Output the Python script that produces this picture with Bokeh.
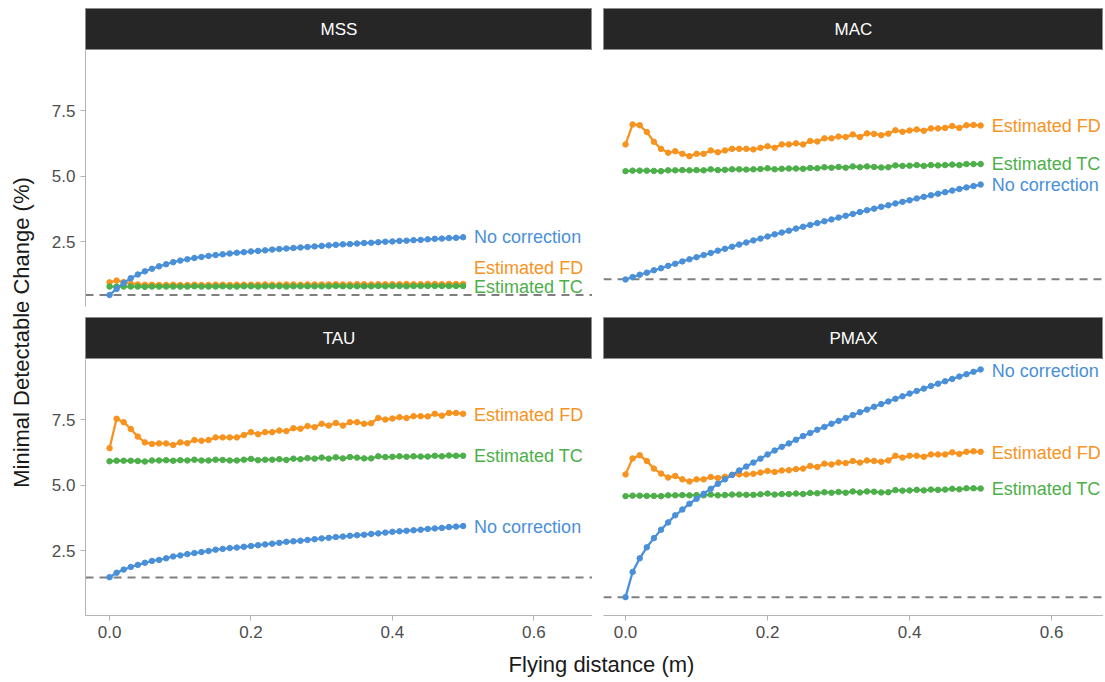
import math
from bokeh.plotting import figure
from bokeh.models import Range1d, LinearAxis, FixedTicker, PrintfTickFormatter, Span
from bokeh.layouts import row, column
from bokeh.embed import file_html
from bokeh.resources import INLINE
from bokeh.core.properties import value

# ---------------- data ----------------
distance = [0.00, 0.01, 0.02, 0.03, 0.04, 0.05, 0.06, 0.07, 0.08, 0.09,
            0.10, 0.11, 0.12, 0.13, 0.14, 0.15, 0.16, 0.17, 0.18, 0.19,
            0.20, 0.21, 0.22, 0.23, 0.24, 0.25, 0.26, 0.27, 0.28, 0.29,
            0.30, 0.31, 0.32, 0.33, 0.34, 0.35, 0.36, 0.37, 0.38, 0.39,
            0.40, 0.41, 0.42, 0.43, 0.44, 0.45, 0.46, 0.47, 0.48, 0.49,
            0.50]

panels = ["MSS", "MAC", "TAU", "PMAX"]
series_names = ["Estimated FD", "Estimated TC", "No correction"]

mss_fd = [0.96, 1.03, 0.97, 0.91, 0.88, 0.87, 0.87, 0.86, 0.86, 0.87,
          0.86, 0.86, 0.87, 0.86, 0.86, 0.87, 0.87, 0.86, 0.87, 0.87,
          0.87, 0.87, 0.88, 0.87, 0.87, 0.88, 0.88, 0.87, 0.88, 0.88,
          0.88, 0.88, 0.89, 0.88, 0.88, 0.89, 0.89, 0.88, 0.89, 0.89,
          0.89, 0.89, 0.90, 0.89, 0.89, 0.90, 0.90, 0.89, 0.90, 0.90,
          0.90]
mss_tc = [0.80, 0.80, 0.80, 0.80, 0.80, 0.79, 0.80, 0.80, 0.80, 0.80,
          0.80, 0.80, 0.81, 0.80, 0.80, 0.80, 0.81, 0.80, 0.80, 0.81,
          0.81, 0.80, 0.81, 0.81, 0.81, 0.80, 0.81, 0.81, 0.81, 0.81,
          0.81, 0.81, 0.82, 0.81, 0.81, 0.81, 0.81, 0.81, 0.82, 0.81,
          0.82, 0.82, 0.81, 0.82, 0.82, 0.82, 0.82, 0.82, 0.82, 0.82,
          0.82]
mss_nc = [0.48, 0.71, 0.94, 1.12, 1.26, 1.38, 1.48, 1.57, 1.65, 1.73,
          1.79, 1.84, 1.89, 1.93, 1.97, 2.00, 2.03, 2.06, 2.09, 2.11,
          2.14, 2.16, 2.18, 2.21, 2.23, 2.25, 2.27, 2.29, 2.31, 2.33,
          2.35, 2.37, 2.39, 2.41, 2.42, 2.44, 2.46, 2.47, 2.49, 2.51,
          2.52, 2.54, 2.55, 2.57, 2.58, 2.60, 2.62, 2.63, 2.65, 2.66,
          2.68]

mac_fd = [6.22, 6.98, 6.95, 6.69, 6.32, 6.05, 5.90, 5.96, 5.86, 5.77,
          5.86, 5.86, 5.99, 5.92, 5.99, 6.05, 6.05, 6.05, 6.03, 6.09,
          6.15, 6.09, 6.22, 6.22, 6.26, 6.22, 6.35, 6.33, 6.45, 6.45,
          6.52, 6.50, 6.60, 6.50, 6.64, 6.62, 6.57, 6.63, 6.76, 6.70,
          6.75, 6.79, 6.74, 6.83, 6.83, 6.85, 6.92, 6.85, 6.95, 6.96,
          6.94]
mac_tc = [5.20, 5.22, 5.22, 5.22, 5.21, 5.20, 5.23, 5.23, 5.24, 5.23,
          5.24, 5.23, 5.27, 5.24, 5.25, 5.27, 5.27, 5.26, 5.27, 5.28,
          5.31, 5.27, 5.29, 5.30, 5.30, 5.29, 5.32, 5.31, 5.35, 5.33,
          5.36, 5.33, 5.38, 5.35, 5.38, 5.36, 5.34, 5.35, 5.42, 5.40,
          5.41, 5.43, 5.40, 5.43, 5.42, 5.43, 5.45, 5.43, 5.47, 5.47,
          5.47]
mac_nc = [1.07, 1.16, 1.25, 1.33, 1.42, 1.50, 1.59, 1.67, 1.76, 1.84,
          1.92, 2.00, 2.08, 2.17, 2.24, 2.32, 2.40, 2.48, 2.56, 2.63,
          2.71, 2.79, 2.86, 2.93, 3.01, 3.08, 3.15, 3.22, 3.29, 3.36,
          3.43, 3.50, 3.57, 3.64, 3.71, 3.77, 3.84, 3.90, 3.97, 4.03,
          4.09, 4.16, 4.22, 4.28, 4.34, 4.40, 4.46, 4.52, 4.58, 4.63,
          4.69]

tau_fd = [6.42, 7.54, 7.41, 7.15, 6.86, 6.64, 6.58, 6.60, 6.60, 6.54,
          6.64, 6.61, 6.73, 6.70, 6.73, 6.83, 6.83, 6.83, 6.83, 6.92,
          7.03, 6.95, 7.03, 7.03, 7.09, 7.07, 7.18, 7.16, 7.26, 7.22,
          7.35, 7.28, 7.38, 7.28, 7.41, 7.41, 7.35, 7.37, 7.57, 7.51,
          7.55, 7.60, 7.57, 7.64, 7.64, 7.63, 7.73, 7.66, 7.76, 7.76,
          7.73]
tau_tc = [5.92, 5.94, 5.94, 5.94, 5.93, 5.91, 5.95, 5.95, 5.96, 5.94,
          5.96, 5.95, 5.98, 5.95, 5.95, 5.98, 5.97, 5.95, 5.95, 5.98,
          6.01, 5.96, 5.98, 5.98, 6.00, 5.97, 6.02, 6.00, 6.04, 6.02,
          6.06, 6.02, 6.07, 6.03, 6.08, 6.06, 6.03, 6.03, 6.11, 6.08,
          6.09, 6.11, 6.09, 6.11, 6.10, 6.10, 6.13, 6.11, 6.14, 6.13,
          6.13]
tau_nc = [1.50, 1.67, 1.79, 1.89, 1.97, 2.05, 2.12, 2.16, 2.22, 2.29,
          2.33, 2.38, 2.42, 2.46, 2.50, 2.55, 2.58, 2.61, 2.63, 2.66,
          2.69, 2.72, 2.75, 2.78, 2.81, 2.85, 2.87, 2.89, 2.92, 2.95,
          2.98, 3.00, 3.03, 3.05, 3.08, 3.10, 3.12, 3.15, 3.17, 3.20,
          3.23, 3.25, 3.27, 3.29, 3.31, 3.34, 3.36, 3.38, 3.41, 3.43,
          3.45]

pmax_fd = [5.42, 6.03, 6.15, 5.93, 5.64, 5.45, 5.30, 5.36, 5.23, 5.15,
           5.23, 5.23, 5.32, 5.28, 5.33, 5.40, 5.42, 5.42, 5.44, 5.49,
           5.55, 5.51, 5.57, 5.58, 5.62, 5.64, 5.74, 5.70, 5.83, 5.80,
           5.87, 5.85, 5.93, 5.87, 5.95, 5.93, 5.90, 5.95, 6.13, 6.06,
           6.13, 6.13, 6.09, 6.18, 6.18, 6.18, 6.26, 6.20, 6.28, 6.30,
           6.28]
pmax_tc = [4.59, 4.61, 4.61, 4.60, 4.60, 4.59, 4.62, 4.62, 4.63, 4.62,
           4.63, 4.62, 4.65, 4.62, 4.63, 4.65, 4.65, 4.64, 4.64, 4.66,
           4.69, 4.65, 4.67, 4.67, 4.69, 4.67, 4.71, 4.70, 4.74, 4.72,
           4.75, 4.72, 4.77, 4.73, 4.77, 4.76, 4.73, 4.74, 4.82, 4.80,
           4.81, 4.83, 4.81, 4.84, 4.83, 4.84, 4.87, 4.85, 4.89, 4.89,
           4.88]
pmax_nc = [0.74, 1.70, 2.22, 2.64, 2.99, 3.31, 3.59, 3.86, 4.08, 4.30,
           4.49, 4.68, 4.87, 5.06, 5.23, 5.40, 5.57, 5.72, 5.87, 6.02,
           6.18, 6.33, 6.47, 6.60, 6.74, 6.88, 7.00, 7.12, 7.23, 7.35,
           7.46, 7.57, 7.68, 7.79, 7.89, 8.00, 8.10, 8.20, 8.30, 8.40,
           8.50, 8.60, 8.69, 8.79, 8.88, 8.97, 9.06, 9.15, 9.24, 9.33,
           9.42]

# dashed reference line per panel
baseline = [0.48, 1.08, 1.49, 0.74]

# direct-label positions (FD, TC, NC) per panel
label_y_mss = [1.52, 0.79, 2.70]
label_y_mac = [6.93, 5.48, 4.68]
label_y_tau = [7.68, 6.11, 3.41]
label_y_pmax = [6.23, 4.85, 9.35]

x_ticks = [0.0, 0.2, 0.4, 0.6]
y_ticks = [2.5, 5.0, 7.5]

# ---------------- style ----------------
FONT = "Liberation Sans"
COLORS = ["#F7931E", "#4DAF4A", "#4A90D9"]
AXIS_GREY = "#B3B3B3"
STRIP_FILL = "#262626"
Y_MIN, Y_MAX = 0.04, 9.80

TOP_PAD = 8
YT_W = 48
LEFT_W, LEFT_B = 544, 35
RIGHT_W, RIGHT_B = 511, 11
X_LEFT = (-0.034, 0.683)
X_RIGHT = (-0.031, 0.673)
STRIP_H = 42
FRAME_H = 256
TOTAL_H = 680

panel_data = {
    "MSS": ([mss_fd, mss_tc, mss_nc], label_y_mss, baseline[0]),
    "MAC": ([mac_fd, mac_tc, mac_nc], label_y_mac, baseline[1]),
    "TAU": ([tau_fd, tau_tc, tau_nc], label_y_tau, baseline[2]),
    "PMAX": ([pmax_fd, pmax_tc, pmax_nc], label_y_pmax, baseline[3]),
}


def style_axis(ax, ticks):
    ax.ticker = FixedTicker(ticks=ticks)
    ax.formatter = PrintfTickFormatter(format="%.1f")
    ax.axis_line_color = AXIS_GREY
    ax.axis_line_width = 1
    ax.major_tick_line_color = AXIS_GREY
    ax.major_tick_out = 5
    ax.major_tick_in = 0
    ax.minor_tick_line_color = None
    ax.major_label_text_font = FONT
    ax.major_label_text_font_size = "17px"
    ax.major_label_text_color = "#4D4D4D"
    ax.major_label_standoff = 5


def make_strip(title, width, border_left, top):
    s = figure(width=width, height=STRIP_H + top, x_range=Range1d(0, 1), y_range=Range1d(0, 1),
               output_backend="svg", toolbar_location=None,
               x_axis_location=None, y_axis_location=None,
               min_border_left=border_left, min_border_right=0,
               min_border_top=top, min_border_bottom=0)
    s.background_fill_color = STRIP_FILL
    s.outline_line_color = "#8C8C8C"
    s.grid.visible = False
    s.text(x=[0.5], y=[0.5], text=[title], text_color="white", text_align="center",
           text_baseline="middle", text_font=value(FONT), text_font_size="17px")
    return s


def make_panel(name, width, border_left, xr, show_y, show_x):
    bottom = 31 if show_x else 11
    p = figure(width=width, height=FRAME_H + bottom,
               x_range=Range1d(*xr), y_range=Range1d(Y_MIN, Y_MAX),
               output_backend="svg", toolbar_location=None,
               x_axis_location=None, y_axis_location=None,
               min_border_left=border_left, min_border_right=0,
               min_border_top=0, min_border_bottom=bottom)
    p.outline_line_color = None
    p.grid.visible = False
    series, label_y, base = panel_data[name]
    p.add_layout(Span(location=base, dimension="width", line_color="#7F7F7F",
                      line_width=2, line_dash="8 6", level="underlay"))
    for vals, col in zip(series, COLORS):
        p.line(distance, vals, line_color=col, line_width=2.3)
        p.scatter(distance, vals, size=5.5, fill_color=col, line_color=col)
    p.text(x=[distance[-1]] * 3, y=label_y, text=series_names, text_color=COLORS,
           text_align="left", text_baseline="middle", x_offset=11,
           text_font=value(FONT), text_font_size="18px")
    if show_y:
        ax = LinearAxis()
        style_axis(ax, y_ticks)
        p.add_layout(ax, "left")
    if show_x:
        ax = LinearAxis()
        style_axis(ax, x_ticks)
        p.add_layout(ax, "below")
    return p


s_mss = make_strip("MSS", LEFT_W, LEFT_B, TOP_PAD)
p_mss = make_panel("MSS", LEFT_W, LEFT_B, X_LEFT, True, False)
s_tau = make_strip("TAU", LEFT_W, LEFT_B, 0)
p_tau = make_panel("TAU", LEFT_W, LEFT_B, X_LEFT, True, True)

s_mac = make_strip("MAC", RIGHT_W, RIGHT_B, TOP_PAD)
p_mac = make_panel("MAC", RIGHT_W, RIGHT_B, X_RIGHT, False, False)
s_pmax = make_strip("PMAX", RIGHT_W, RIGHT_B, 0)
p_pmax = make_panel("PMAX", RIGHT_W, RIGHT_B, X_RIGHT, False, True)

col_h = TOP_PAD + STRIP_H * 2 + FRAME_H * 2 + 11 + 31   # ends at page y 646

yt = figure(width=YT_W, height=col_h, x_range=Range1d(0, YT_W), y_range=Range1d(0, col_h),
            output_backend="svg", toolbar_location=None,
            x_axis_location=None, y_axis_location=None,
            min_border_left=0, min_border_right=0, min_border_top=0, min_border_bottom=0)
yt.outline_line_color = None
yt.grid.visible = False
yt.text(x=[21], y=[col_h - 332], text=["Minimal Detectable Change (%)"], angle=math.pi / 2,
        text_align="center", text_baseline="middle", text_color="#1A1A1A",
        text_font=value(FONT), text_font_size="22px")

total_w = YT_W + LEFT_W + RIGHT_W
xt_h = TOTAL_H - col_h
xt = figure(width=total_w, height=xt_h, x_range=Range1d(0, total_w), y_range=Range1d(0, xt_h),
            output_backend="svg", toolbar_location=None,
            x_axis_location=None, y_axis_location=None,
            min_border_left=0, min_border_right=0, min_border_top=0, min_border_bottom=0)
xt.outline_line_color = None
xt.grid.visible = False
xt.text(x=[601], y=[xt_h - 18], text=["Flying distance (m)"],
        text_align="center", text_baseline="middle", text_color="#1A1A1A",
        text_font=value(FONT), text_font_size="22px")

layout = column(
    row(yt,
        column(s_mss, p_mss, s_tau, p_tau),
        column(s_mac, p_mac, s_pmax, p_pmax)),
    xt,
)

open("out.html", "w").write(file_html(layout, INLINE))
